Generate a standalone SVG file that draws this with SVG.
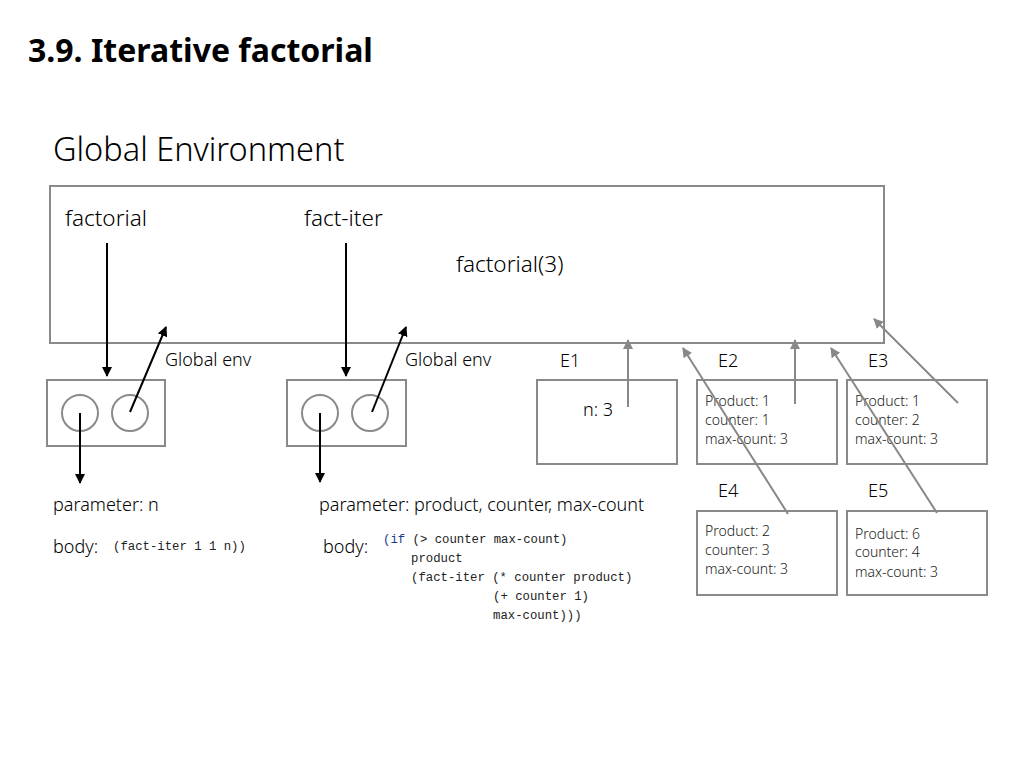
<svg xmlns="http://www.w3.org/2000/svg" width="1024" height="768" viewBox="0 0 1024 768">
<defs>
<marker id="ab" viewBox="0 0 10 10" refX="9" refY="5" markerWidth="10" markerHeight="10" markerUnits="userSpaceOnUse" orient="auto"><path d="M0,0 L10,5 L0,10 z" fill="#000"/></marker>
<marker id="ag" viewBox="0 0 10 10" refX="9" refY="5" markerWidth="10" markerHeight="10" markerUnits="userSpaceOnUse" orient="auto"><path d="M0,0 L10,5 L0,10 z" fill="#888"/></marker>
</defs>
<style>
.t{font-family:"Noto Sans","Noto Sans CJK KR",sans-serif;fill:#000}
.title{font-size:32px;font-weight:bold}
.h{font-size:32.5px;font-weight:300}
.l{font-size:22.5px;font-weight:300}
.s{font-size:18px;font-weight:300}
.e{font-size:14px;font-weight:300;fill:#222}
.c{font-family:"Liberation Mono","DejaVu Sans Mono",monospace;font-size:12.3px;fill:#222}
.kw{fill:#1a3c8a}
.box{fill:#fff;stroke:#8a8a8a;stroke-width:2}
.blk{stroke:#000;stroke-width:2;fill:none}
.gry{stroke:#888;stroke-width:2;fill:none}
</style>
<rect width="1024" height="768" fill="#fff"/>
<text class="t title" x="28" y="62">3.9. Iterative factorial</text>
<text class="t h" x="53" y="161">Global Environment</text>

<g id="global-env">
<rect class="box" x="50" y="186" width="834" height="157"/>
<text class="t l" x="65" y="226">factorial</text>
<text class="t l" x="304" y="226">fact-iter</text>
<text class="t l" x="456" y="272">factorial(3)</text>
</g>

<g id="proc-factorial">
<rect class="box" x="47" y="380" width="118" height="66"/>
<circle class="box" cx="80" cy="413" r="18"/>
<circle class="box" cx="130" cy="413" r="18"/>
<text class="t s" x="165" y="366">Global env</text>
<text class="t s" x="53" y="511">parameter: n</text>
<text class="t s" x="53" y="553">body:</text>
<text class="c" x="113" y="550">(fact-iter 1 1 n))</text>
</g>

<g id="proc-fact-iter">
<rect class="box" x="287" y="380" width="119" height="66"/>
<circle class="box" cx="320" cy="413" r="18"/>
<circle class="box" cx="370" cy="413" r="18"/>
<text class="t s" x="405" y="366">Global env</text>
<text class="t s" x="319" y="511">parameter: product, counter, max-count</text>
<text class="t s" x="323" y="553">body:</text>
<text class="c" x="383" y="543"><tspan class="kw">(if</tspan> (&gt; counter max-count)</text>
<text class="c" x="411" y="562">product</text>
<text class="c" x="411" y="581">(fact-iter (* counter product)</text>
<text class="c" x="493" y="600">(+ counter 1)</text>
<text class="c" x="493" y="619">max-count)))</text>
</g>

<g id="E1">
<text class="t s" x="560" y="367">E1</text>
<rect class="box" x="537" y="380" width="140" height="84"/>
<text class="t s" x="583" y="416">n: 3</text>
</g>

<g id="E2">
<text class="t s" x="718" y="367">E2</text>
<rect class="box" x="697" y="380" width="140" height="84"/>
<text class="t e" x="705" y="406">Product: 1</text>
<text class="t e" x="705" y="425">counter: 1</text>
<text class="t e" x="705" y="444">max-count: 3</text>
</g>

<g id="E3">
<text class="t s" x="868" y="367">E3</text>
<rect class="box" x="847" y="380" width="140" height="84"/>
<text class="t e" x="855" y="406">Product: 1</text>
<text class="t e" x="855" y="425">counter: 2</text>
<text class="t e" x="855" y="444">max-count: 3</text>
</g>

<g id="E4">
<text class="t s" x="718" y="497">E4</text>
<rect class="box" x="697" y="511" width="140" height="84"/>
<text class="t e" x="705" y="536">Product: 2</text>
<text class="t e" x="705" y="555">counter: 3</text>
<text class="t e" x="705" y="574">max-count: 3</text>
</g>

<g id="E5">
<text class="t s" x="868" y="497">E5</text>
<rect class="box" x="847" y="511" width="140" height="84"/>
<text class="t e" x="855" y="539">Product: 6</text>
<text class="t e" x="855" y="557">counter: 4</text>
<text class="t e" x="855" y="577">max-count: 3</text>
</g>

<g id="connectors">
<line class="blk" x1="107" y1="243" x2="107" y2="376" marker-end="url(#ab)"/>
<line class="blk" x1="130" y1="412" x2="166" y2="327" marker-end="url(#ab)"/>
<line class="blk" x1="80" y1="413" x2="80" y2="483" marker-end="url(#ab)"/>
<line class="blk" x1="346" y1="243" x2="346" y2="376" marker-end="url(#ab)"/>
<line class="blk" x1="372" y1="412" x2="406" y2="327" marker-end="url(#ab)"/>
<line class="blk" x1="320" y1="413" x2="320" y2="482" marker-end="url(#ab)"/>
<line class="gry" x1="628" y1="407" x2="628" y2="340" marker-end="url(#ag)"/>
<line class="gry" x1="795" y1="404" x2="795" y2="340" marker-end="url(#ag)"/>
<line class="gry" x1="958" y1="403" x2="874" y2="319" marker-end="url(#ag)"/>
<line class="gry" x1="788" y1="514" x2="683" y2="348" marker-end="url(#ag)"/>
<line class="gry" x1="937" y1="513" x2="831" y2="348" marker-end="url(#ag)"/>
</g>
</svg>
